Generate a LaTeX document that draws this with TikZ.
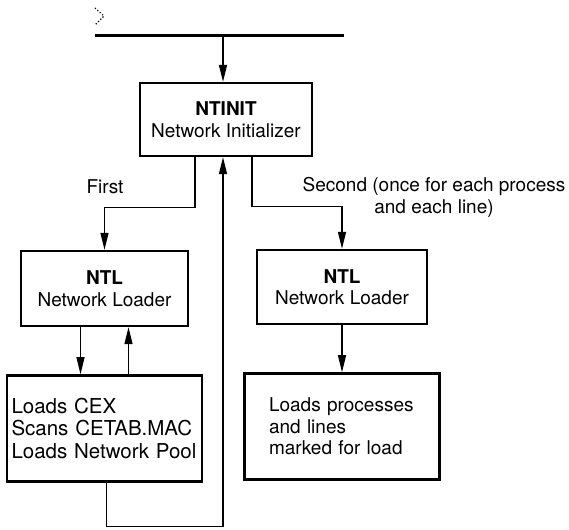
\documentclass[tikz,border=0pt]{standalone}
\usepackage{fontspec}
\setmainfont{TeX Gyre Heros}
\usetikzlibrary{arrows.meta,positioning}

\begin{document}
\begin{tikzpicture}[x=1pt, y=-1pt, font=\fontsize{19}{21.5}\selectfont, node distance=47pt, every node/.style={inner sep=4pt}]
        \tikzset{
            box/.style={draw, line width=2.4pt, align=center, minimum width=170pt, minimum height=74pt},
            loadbox/.style={box, align=left, minimum width=195pt, minimum height=106pt},
            arr/.style={-{Triangle[length=17pt, width=8pt]}, line width=1.3pt}
        }
        \useasboundingbox (0,0) rectangle (569,529);

        % prompt mark and bus line
        \draw[line width=1.2pt, dotted] (95,8) -- (104,16) -- (95,25);
        \draw[line width=3pt] (95,36) -- (344,36);
        \coordinate (bus) at (223,36);

        \node[box, minimum width=172pt, minimum height=73pt] (init) at (226,119.5) {\textbf{NTINIT}\\Network Initializer};
        \node[box, minimum width=167pt, minimum height=75pt] (ntlA) at (104.5,288.5) {\textbf{NTL}\\Network Loader};
        \node[box] (ntlB) at (342,287) {\textbf{NTL}\\Network Loader};
        \node[loadbox, text width=186pt, font=\fontsize{20.5}{22.5}\selectfont, below=of ntlA] (loadA) {Loads CEX\\Scans CETAB.MAC\\Loads Network Pool};
        \node[loadbox, text width=146pt, below=of ntlB] (loadB) {Loads processes\\and lines\\marked for load};

        \node (first) at (105,187) {First};
        \node[align=center] (second) at (434,197.5) {Second (once for each process\\and each line)};

        \draw[arr] (bus) -- (bus |- init.north);
        \draw[arr] ([xshift=-31pt]init.south) -- ++(0,50) -| (ntlA.north);
        \draw[arr] ([xshift=26pt]init.south) -- ++(0,49) -| (ntlB.north);
        \draw[arr] ([xshift=-24pt]ntlA.south) -- ([xshift=-24pt]loadA.north);
        \draw[arr] ([xshift=24pt]loadA.north) -- ([xshift=24pt]ntlA.south);
        \draw[arr] (ntlB) -- (loadB);

        % return path back up to the initializer
        \draw[arr] ([xshift=2pt]loadA.south) -- ++(0,44) -| (bus |- init.south);
    \end{tikzpicture}
\end{document}
